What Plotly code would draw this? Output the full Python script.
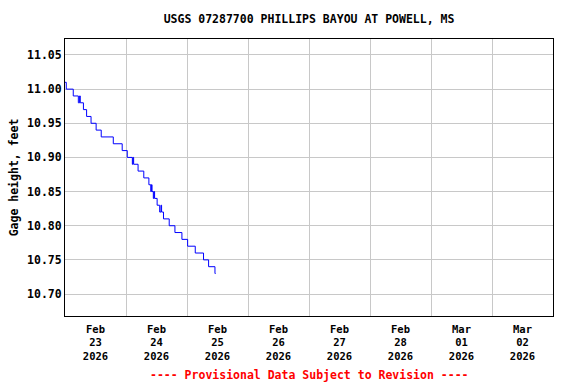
import plotly.graph_objects as go

# Step series (time, gage height ft)
times = [
    "2026-02-23 00:00", "2026-02-23 00:30", "2026-02-23 03:15", "2026-02-23 05:15",
    "2026-02-23 05:45", "2026-02-23 06:00", "2026-02-23 07:15", "2026-02-23 08:30",
    "2026-02-23 10:15", "2026-02-23 12:15", "2026-02-23 14:15", "2026-02-23 19:00",
    "2026-02-23 22:30", "2026-02-24 00:30", "2026-02-24 02:30", "2026-02-24 02:45",
    "2026-02-24 03:00", "2026-02-24 04:45", "2026-02-24 07:00", "2026-02-24 09:00",
    "2026-02-24 09:45", "2026-02-24 10:00", "2026-02-24 10:15", "2026-02-24 10:45",
    "2026-02-24 11:00", "2026-02-24 11:15", "2026-02-24 12:15", "2026-02-24 13:15",
    "2026-02-24 13:45", "2026-02-24 14:00", "2026-02-24 14:45", "2026-02-24 17:00",
    "2026-02-24 19:15", "2026-02-24 22:00", "2026-02-25 00:15", "2026-02-25 03:15",
    "2026-02-25 06:30", "2026-02-25 08:30", "2026-02-25 11:00", "2026-02-25 11:15",
]
heights = [
    11.01, 11.00, 10.99, 10.98,
    10.99, 10.98, 10.97, 10.96,
    10.95, 10.94, 10.93, 10.92,
    10.91, 10.90, 10.89, 10.90,
    10.89, 10.88, 10.87, 10.86,
    10.85, 10.86, 10.85, 10.84,
    10.85, 10.84, 10.83, 10.82,
    10.83, 10.82, 10.81, 10.80,
    10.79, 10.78, 10.77, 10.76,
    10.75, 10.74, 10.73, 10.73,
]

tick_dates = ["2026-02-23 12:00", "2026-02-24 12:00", "2026-02-25 12:00", "2026-02-26 12:00",
              "2026-02-27 12:00", "2026-02-28 12:00", "2026-03-01 12:00", "2026-03-02 12:00"]
tick_labels = ["Feb<br>23<br>2026", "Feb<br>24<br>2026", "Feb<br>25<br>2026", "Feb<br>26<br>2026",
               "Feb<br>27<br>2026", "Feb<br>28<br>2026", "Mar<br>01<br>2026", "Mar<br>02<br>2026"]
y_ticks = [10.70, 10.75, 10.80, 10.85, 10.90, 10.95, 11.00, 11.05]

FONT = "DejaVu Sans Mono"

fig = go.Figure()
fig.add_trace(go.Scatter(x=times, y=heights, mode="lines", line_shape="hv",
                         line=dict(color="#0000ff", width=1), hoverinfo="skip"))

fig.update_layout(
    width=576, height=384,
    margin=dict(l=65, r=23, t=39, b=68, autoexpand=False),
    paper_bgcolor="white", plot_bgcolor="white",
    showlegend=False,
    font=dict(family=FONT, size=11.5, color="black", weight="bold"),
    title=dict(text="USGS 07287700 PHILLIPS BAYOU AT POWELL, MS", x=0.5365, xanchor="center",
               y=0.951, yanchor="middle", font=dict(family=FONT, size=11.5, weight="bold")),
    annotations=[dict(text="---- Provisional Data Subject to Revision ----", xref="paper", yref="paper",
                      x=0.5, y=-0.213, xanchor="center", yanchor="middle", showarrow=False,
                      font=dict(family=FONT, size=11.5, color="red", weight="bold"))],
)
fig.update_xaxes(
    type="date", range=["2026-02-23 00:00", "2026-03-03 00:00"],
    tickmode="array", tickvals=tick_dates, ticktext=tick_labels,
    showgrid=False, ticks="", showline=True, linecolor="black", linewidth=1, mirror=True,
    tickfont=dict(family=FONT, size=10.5, weight="bold"), ticklabelstandoff=3,
    minor=dict(tick0="2026-02-23", dtick=86400000, showgrid=True, gridcolor="#c8c8c8", gridwidth=1, ticks=""),
    zeroline=False, automargin=False,
)
fig.update_yaxes(
    range=[10.6678, 11.0734], tickmode="array", tickvals=y_ticks,
    ticktext=[f"{v:.2f}" for v in y_ticks],
    showgrid=True, gridcolor="#c8c8c8", gridwidth=1, ticks="",
    showline=True, linecolor="black", linewidth=1, mirror=True,
    title=dict(text="Gage height, feet", standoff=6, font=dict(family=FONT, size=11.5, weight="bold")),
    tickfont=dict(family=FONT, size=11.5, weight="bold"),
    zeroline=False, automargin=False,
)

fig.write_html("out.html", config={"displayModeBar": False},
               post_script="document.body.style.margin='0';document.body.style.padding='0';")
